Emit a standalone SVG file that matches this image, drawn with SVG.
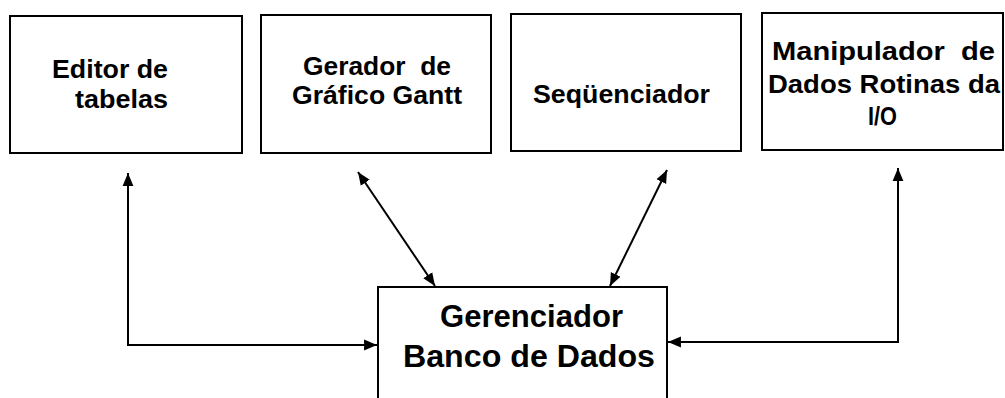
<svg xmlns="http://www.w3.org/2000/svg" width="1005" height="398" viewBox="0 0 1005 398">
<style>
.box{fill:#fff;stroke:#000;stroke-width:2}
.t{font-family:"Liberation Sans",Arial,sans-serif;font-weight:bold;font-size:26px;fill:#000;white-space:pre}
.tb{font-family:"Liberation Sans",Arial,sans-serif;font-weight:bold;font-size:31px;fill:#000}
.c{fill:none;stroke:#000;stroke-width:2}
</style>
<defs>
<marker id="ah" markerUnits="userSpaceOnUse" markerWidth="14" markerHeight="12" refX="12" refY="5" orient="auto-start-reverse" viewBox="0 0 13 10">
<path d="M0,0 L12,5 L0,10 z" fill="#000"/>
</marker>
</defs>
<rect x="0" y="0" width="1005" height="398" fill="#fff"/>
<g id="editor">
<rect class="box" x="10" y="16" width="232" height="137"/>
<text class="t" x="52" y="78" textLength="116" lengthAdjust="spacingAndGlyphs">Editor de</text>
<text class="t" x="75" y="108" textLength="93" lengthAdjust="spacingAndGlyphs">tabelas</text>
</g>
<g id="gerador">
<rect class="box" x="261" y="15" width="230" height="138"/>
<text class="t" x="303" y="75" textLength="148" lengthAdjust="spacingAndGlyphs">Gerador  de</text>
<text class="t" x="292" y="104" textLength="170" lengthAdjust="spacingAndGlyphs">Gráfico Gantt</text>
</g>
<g id="sequenciador">
<rect class="box" x="511" y="14" width="230" height="137"/>
<text class="t" x="533" y="103" textLength="177" lengthAdjust="spacingAndGlyphs">Seqüenciador</text>
</g>
<g id="manipulador">
<rect class="box" x="762" y="13" width="241" height="137"/>
<text class="t" x="772" y="60" textLength="223" lengthAdjust="spacingAndGlyphs">Manipulador  de</text>
<text class="t" x="768" y="93" textLength="232" lengthAdjust="spacingAndGlyphs">Dados Rotinas da</text>
<text class="t" x="868" y="125" textLength="29" lengthAdjust="spacingAndGlyphs">I/O</text>
</g>
<g id="gerenciador">
<rect class="box" x="378" y="287" width="289" height="130"/>
<text class="tb" x="440" y="327" textLength="183" lengthAdjust="spacingAndGlyphs">Gerenciador</text>
<text class="tb" x="403" y="367" textLength="252" lengthAdjust="spacingAndGlyphs">Banco de Dados</text>
</g>
<g id="connectors">
<path class="c" d="M377,345 H128 V173" marker-start="url(#ah)" marker-end="url(#ah)"/>
<path class="c" d="M358,172 L435,286" marker-start="url(#ah)" marker-end="url(#ah)"/>
<path class="c" d="M667,170 L610,286" marker-start="url(#ah)" marker-end="url(#ah)"/>
<path class="c" d="M668,342 H898 V168" marker-start="url(#ah)" marker-end="url(#ah)"/>
</g>
</svg>
